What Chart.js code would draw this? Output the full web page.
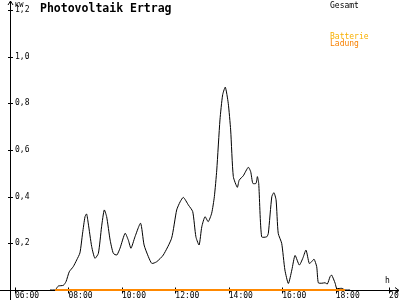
<!DOCTYPE html>
<html>
<head>
<meta charset="utf-8">
<script src="https://cdn.jsdelivr.net/npm/chart.js@4/dist/chart.umd.min.js"></script>
<style>
  body { margin: 0; background: #fff; }
  canvas { display: block; }
</style>
</head>
<body>
<canvas id="chart" width="400" height="300"></canvas>
<script>
// time of day in hours, output in kW
const gesamtTimes = [7.31, 7.50, 7.53, 7.62, 7.81, 7.91, 8.03, 8.18, 8.31, 8.43, 8.53, 8.62, 8.68, 8.74, 8.87, 8.99,
    9.12, 9.24, 9.34, 9.43, 9.56, 9.68, 9.81, 9.93, 10.12, 10.24, 10.34, 10.49, 10.70, 10.83, 10.99, 11.12,
    11.30, 11.55, 11.86, 12.05, 12.18, 12.30, 12.49, 12.65, 12.77, 12.89, 12.99, 13.11, 13.23, 13.36, 13.46,
    13.55, 13.67, 13.77, 13.87, 13.98, 14.07, 14.17, 14.32, 14.39, 14.54, 14.73, 14.82, 14.90, 15.02, 15.07,
    15.12, 15.23, 15.42, 15.48, 15.61, 15.69, 15.77, 15.85, 15.98, 16.10, 16.23, 16.36, 16.48, 16.64, 16.77,
    16.89, 17.01, 17.10, 17.19, 17.29, 17.35, 17.48, 17.60, 17.69, 17.79, 17.85, 17.98, 18.04, 18.23, 18.35, 18.54]
const gesamtValues = [0, 0, 0.003, 0.017, 0.02, 0.036, 0.078, 0.10, 0.129, 0.159, 0.244, 0.314, 0.326, 0.287, 0.186, 0.136,
    0.157, 0.271, 0.343, 0.314, 0.214, 0.157, 0.15, 0.179, 0.243, 0.214, 0.179, 0.228, 0.286, 0.193, 0.143, 0.114,
    0.121, 0.15, 0.222, 0.343, 0.378, 0.397, 0.364, 0.336, 0.228, 0.193, 0.271, 0.314, 0.293, 0.329, 0.40,
    0.514, 0.729, 0.836, 0.869, 0.80, 0.686, 0.486, 0.44, 0.471, 0.489, 0.526, 0.507, 0.457, 0.457, 0.486,
    0.457, 0.228, 0.228, 0.243, 0.40, 0.417, 0.386, 0.243, 0.20, 0.086, 0.028, 0.086, 0.148, 0.107, 0.136,
    0.171, 0.114, 0.121, 0.132, 0.10, 0.031, 0.029, 0.031, 0.026, 0.057, 0.064, 0.029, 0.007, 0.007, 0, 0]

const ladungTimes = [7.50, 18.35]
const ladungValues = [0, 0]

const xTicks = [6, 8, 10, 12, 14, 16, 18, 20]
const yTicks = [0.2, 0.4, 0.6, 0.8, 1.0, 1.2]

const mono = "'DejaVu Sans Mono', 'Liberation Mono', monospace"

const axesPlugin = {
    id: 'axesPlugin',
    beforeDatasetsDraw(chart) {
        const ctx = chart.ctx
        const x = chart.scales.x
        const y = chart.scales.y
        const x0 = Math.round(x.getPixelForValue(x.min)) + 0.5
        const y0 = Math.round(y.getPixelForValue(0)) + 0.5
        ctx.save()
        ctx.strokeStyle = '#000'
        ctx.lineWidth = 1
        ctx.beginPath()
        ctx.moveTo(x0, 300); ctx.lineTo(x0, 1)
        ctx.moveTo(x0 - 2.5, 5); ctx.lineTo(x0, 1); ctx.lineTo(x0 + 2.5, 5)
        ctx.moveTo(0, y0); ctx.lineTo(399, y0)
        ctx.moveTo(395, y0 - 3); ctx.lineTo(399, y0); ctx.lineTo(395, y0 + 3)
        yTicks.forEach(v => {
            const py = Math.round(y.getPixelForValue(v)) + 0.5
            ctx.moveTo(x0 - 2.5, py); ctx.lineTo(x0 + 2.5, py)
        })
        xTicks.forEach(v => {
            const px = Math.round(x.getPixelForValue(v)) + 0.5
            ctx.moveTo(px, y0 - 3); ctx.lineTo(px, y0 + 3)
        })
        ctx.stroke()
        ctx.restore()
    },
    afterDraw(chart) {
        const ctx = chart.ctx
        ctx.save()
        ctx.textBaseline = 'alphabetic'
        ctx.fillStyle = '#000'
        ctx.font = 'bold 11.5px ' + mono
        ctx.fillText('Photovoltaik Ertrag', 40, 11.5)
        ctx.font = '8px ' + mono
        ctx.fillText('Gesamt', 330, 8)
        ctx.fillText('h', 385, 283)
        ctx.font = '7px ' + mono
        ctx.fillText('KW', 15, 7)
        ctx.font = '8px ' + mono
        ctx.fillStyle = '#f8b000'
        ctx.fillText('Batterie', 330, 39)
        ctx.fillStyle = '#f88000'
        ctx.fillText('Ladung', 330, 46)
        ctx.restore()
    }
}

new Chart(document.getElementById('chart'), {
    type: 'line',
    data: {
        datasets: [
            {
                label: 'Ladung',
                data: ladungTimes.map((t, i) => ({x: t, y: ladungValues[i]})),
                borderColor: '#ff8800',
                borderWidth: 2,
                pointRadius: 0,
                clip: false,
                order: 0
            },
            {
                label: 'Gesamt',
                data: gesamtTimes.map((t, i) => ({x: t, y: gesamtValues[i]})),
                borderColor: '#000',
                borderWidth: 1,
                pointRadius: 0,
                tension: 0.2,
                clip: false,
                order: 1
            }
        ]
    },
    options: {
        responsive: false,
        animation: false,
        layout: { padding: { top: 3, right: 5, left: 0, bottom: 0 } },
        plugins: { legend: { display: false }, tooltip: { enabled: false } },
        scales: {
            x: {
                type: 'linear',
                min: 5.813,
                max: 20.22,
                afterBuildTicks: scale => { scale.ticks = xTicks.map(v => ({value: v})) },
                afterFit: scale => { scale.height = 10; scale.paddingLeft = 0; scale.paddingRight = 0 },
                grid: { display: false, drawTicks: false },
                border: { display: false },
                ticks: {
                    align: 'start',
                    padding: 1,
                    color: '#000',
                    font: { family: mono, size: 8 },
                    maxRotation: 0,
                    autoSkip: false,
                    callback: v => String(v).padStart(2, '0') + ':00'
                }
            },
            y: {
                min: 0,
                max: 1.23,
                afterBuildTicks: scale => { scale.ticks = yTicks.map(v => ({value: v})) },
                afterFit: scale => { scale.width = 10; scale.paddingTop = 0; scale.paddingBottom = 0 },
                grid: { display: false, drawTicks: false },
                border: { display: false },
                ticks: {
                    mirror: true,
                    padding: 5,
                    color: '#000',
                    font: { family: mono, size: 8 },
                    autoSkip: false,
                    callback: v => v.toFixed(1).replace('.', ',')
                }
            }
        }
    },
    plugins: [axesPlugin]
})
</script>
</body>
</html>
